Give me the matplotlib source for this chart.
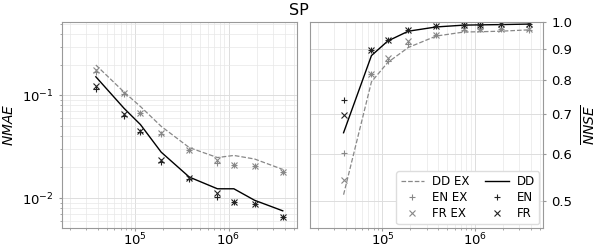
import numpy as np
import matplotlib
matplotlib.use("Agg")
import matplotlib.pyplot as plt
from matplotlib.ticker import FixedLocator, FixedFormatter, NullFormatter, NullLocator

x = [38000, 76000, 114000, 190000, 380000, 760000, 1140000, 1900000, 3800000]

# NMAE (left)
nmae_dd_ex = [0.198, 0.108, 0.078, 0.050, 0.031, 0.0248, 0.026, 0.024, 0.019]
nmae_dd = [0.152, 0.075, 0.052, 0.028, 0.016, 0.0123, 0.0123, 0.0095, 0.0075]
nmae_en_ex = [0.170, 0.103, 0.068, 0.042, 0.0295, 0.0218, 0.0211, 0.0204, 0.0178]
nmae_fr_ex = [0.177, 0.105, 0.068, 0.0426, 0.0295, 0.0233, 0.0211, 0.0204, 0.0178]
nmae_en = [0.115, 0.063, 0.044, 0.0223, 0.0154, 0.0102, 0.0092, 0.0087, 0.0066]
nmae_fr = [0.124, 0.066, 0.045, 0.0236, 0.0156, 0.0112, 0.0092, 0.0087, 0.0066]

# NNSE (right)
nnse_dd_ex = [0.512, 0.793, 0.855, 0.906, 0.947, 0.962, 0.963, 0.965, 0.970]
nnse_dd = [0.651, 0.878, 0.929, 0.965, 0.981, 0.988, 0.989, 0.990, 0.992]
nnse_en_ex = [0.602, 0.818, 0.860, 0.920, 0.950, 0.970, 0.972, 0.972, 0.970]
nnse_fr_ex = [0.542, 0.818, 0.870, 0.929, 0.952, 0.975, 0.975, 0.975, 0.972]
nnse_en = [0.738, 0.898, 0.931, 0.969, 0.984, 0.990, 0.990, 0.991, 0.991]
nnse_fr = [0.698, 0.898, 0.931, 0.969, 0.984, 0.990, 0.990, 0.991, 0.991]

GRAY = '#888888'
fig = plt.figure(figsize=(5.98, 2.49), dpi=100)
ax1 = fig.add_axes([62/598, 1-228/249, 235/598, 206/249])
ax2 = fig.add_axes([310/598, 1-228/249, 233/598, 206/249])

fs = 9.5
ms = 5
for ax in (ax1, ax2):
    ax.set_xscale('log')
    ax.set_yscale('log')
    ax.set_xlim(1.65e4, 5.4e6)
    ax.grid(True, which='major', color='#dddddd', linewidth=0.7)
    ax.grid(True, which='minor', color='#e8e8e8', linewidth=0.5)
    ax.set_axisbelow(True)
    for s in ax.spines.values():
        s.set_color('#999999')
    ax.tick_params(which='both', colors='#999999', labelcolor='black', labelsize=fs, length=2.5)
    ax.tick_params(which='minor', length=1.5)
    ax.tick_params(axis='x', which='major', pad=0.5)

def draw(ax, dd_ex, dd, en_ex, fr_ex, en, fr):
    ax.plot(x, dd_ex, '--', color=GRAY, lw=0.9, label='DD EX')
    ax.plot(x, en_ex, '+', color=GRAY, ms=ms, mew=0.8, ls='none', label='EN EX')
    ax.plot(x, fr_ex, 'x', color=GRAY, ms=ms-1, mew=0.8, ls='none', label='FR EX')
    ax.plot(x, dd, '-', color='black', lw=1.0, label='DD')
    ax.plot(x, en, '+', color='#222222', ms=ms, mew=0.8, ls='none', label='EN')
    ax.plot(x, fr, 'x', color='#222222', ms=ms-1, mew=0.8, ls='none', label='FR')

draw(ax1, nmae_dd_ex, nmae_dd, nmae_en_ex, nmae_fr_ex, nmae_en, nmae_fr)
draw(ax2, nnse_dd_ex, nnse_dd, nnse_en_ex, nnse_fr_ex, nnse_en, nnse_fr)

ax1.set_ylim(0.0051, 0.52)
ax1.set_ylabel(r'$\overline{NMAE}$', fontsize=fs+0.5)
ax1.yaxis.set_label_coords(-0.19, 0.5)

ax2.set_ylim(0.45, 1.0)
yt = [0.5, 0.6, 0.7, 0.8, 0.9, 1.0]
ax2.yaxis.set_major_locator(FixedLocator(yt))
ax2.yaxis.set_major_formatter(FixedFormatter([f'{v:.1f}' for v in yt]))
ax2.yaxis.set_minor_locator(NullLocator())
ax2.yaxis.set_minor_formatter(NullFormatter())
ax2.yaxis.tick_right()
ax2.yaxis.set_label_position('right')
ax2.set_ylabel(r'$\overline{NNSE}$', fontsize=fs+0.5)
ax2.yaxis.set_label_coords(1.16, 0.5)

leg = ax2.legend(ncol=2, loc='lower right', fontsize=8.5, handlelength=2.0,
                 columnspacing=1.3, labelspacing=0.25, borderpad=0.35,
                 handletextpad=0.7, borderaxespad=0.3,
                 framealpha=1.0, edgecolor='#dddddd', fancybox=True)

fig.text(0.5, 0.957, 'SP', ha='center', va='center', fontsize=fs+2)

fig.savefig('out.png', dpi=100)
